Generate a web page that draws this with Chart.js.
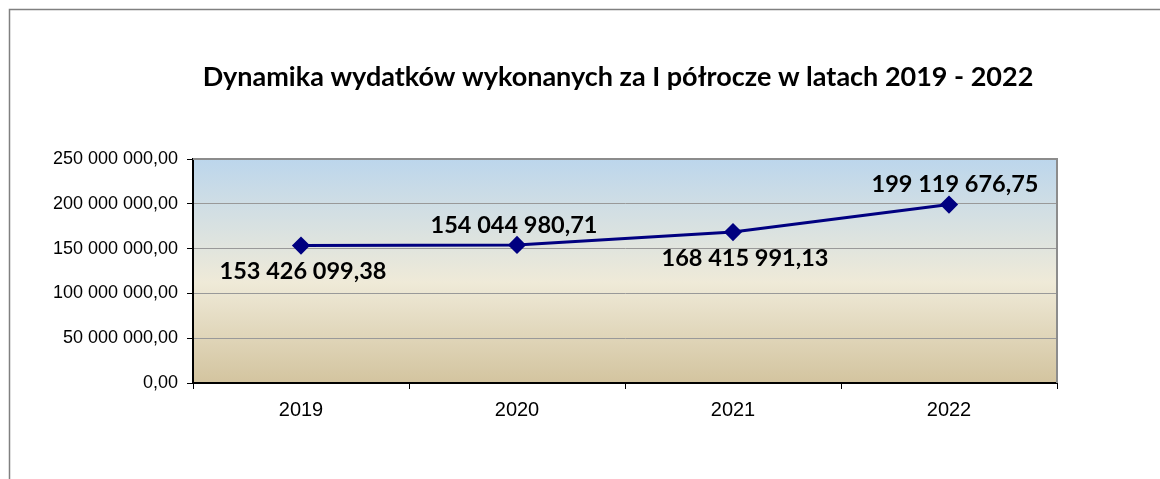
<!DOCTYPE html>
<html>
<head>
<meta charset="utf-8">
<script src="https://cdn.jsdelivr.net/npm/chart.js@4.4.0/dist/chart.umd.min.js"></script>
<style>
  html, body { margin: 0; padding: 0; background: #fff; }
  #wrap { width: 1160px; height: 479px; }
</style>
</head>
<body>
<div id="wrap"><canvas id="chart"></canvas></div>
<script>
// --- chart data ---
const chartTitle = 'Dynamika wydatków wykonanych za I półrocze w latach 2019 - 2022';
const years = ['2019', '2020', '2021', '2022'];
const expenses = [153426099.38, 154044980.71, 168415991.13, 199119676.75];
const labelSide = ['below', 'above', 'below', 'above'];
const yTicks = [0, 50000000, 100000000, 150000000, 200000000, 250000000];

// polish number format: "153 426 099,38"
function fmtPL(v) {
  const parts = v.toFixed(2).split('.');
  const intPart = parts[0].replace(/\B(?=(\d{3})+(?!\d))/g, ' ');
  return intPart + ',' + parts[1];
}

// background: outer frame, title, gradient plot area
const backdrop = {
  id: 'backdrop',
  beforeDraw(chart) {
    const { ctx, chartArea: a } = chart;
    ctx.save();
    ctx.strokeStyle = '#808080';
    ctx.lineWidth = 1.5;
    ctx.strokeRect(9.5, 9.5, 1300, 700);

    ctx.font = 'bold 27px Lato';
    ctx.fillStyle = '#000';
    ctx.textAlign = 'center';
    ctx.textBaseline = 'middle';
    ctx.fillText(chartTitle, 618, 77);

    const g = ctx.createLinearGradient(0, a.top, 0, a.bottom);
    g.addColorStop(0, '#bcd6ec');
    g.addColorStop(0.55, '#efead8');
    g.addColorStop(1, '#d3c49f');
    ctx.fillStyle = g;
    ctx.fillRect(a.left, a.top, a.right - a.left, a.bottom - a.top);
    ctx.restore();
  },
  afterDraw(chart) {
    // gray frame on top and right of plot area
    const { ctx, chartArea: a } = chart;
    ctx.save();
    ctx.strokeStyle = '#8c8c8c';
    ctx.lineWidth = 2;
    ctx.beginPath();
    ctx.moveTo(a.left, a.top);
    ctx.lineTo(a.right, a.top);
    ctx.lineTo(a.right, a.bottom);
    ctx.stroke();
    ctx.restore();
  }
};

// value labels next to points
const valueLabels = {
  id: 'valueLabels',
  afterDatasetsDraw(chart) {
    const { ctx } = chart;
    const meta = chart.getDatasetMeta(0);
    ctx.save();
    ctx.font = 'bold 23.5px Lato';
    ctx.fillStyle = '#000';
    ctx.textAlign = 'center';
    ctx.textBaseline = 'middle';
    meta.data.forEach((pt, i) => {
      const dy = labelSide[i] === 'above' ? -20 : 26;
      ctx.fillText(fmtPL(expenses[i]), pt.x + (i === 2 ? 12 : i === 3 ? 6 : i === 1 ? -3 : 2), pt.y + dy);
    });
    ctx.restore();
  }
};

new Chart(document.getElementById('chart'), {
  type: 'line',
  data: {
    labels: years,
    datasets: [{
      data: expenses,
      borderColor: '#000080',
      backgroundColor: '#000080',
      borderWidth: 3,
      pointStyle: 'rectRot',
      pointRadius: 7,
      pointHoverRadius: 7,
      tension: 0
    }]
  },
  options: {
    responsive: true,
    maintainAspectRatio: false,
    animation: false,
    layout: { padding: { left: 0, right: 103, top: 159, bottom: 0 } },
    plugins: {
      legend: { display: false },
      tooltip: { enabled: false },
      title: { display: false }
    },
    scales: {
      x: {
        offset: true,
        grid: {
          offset: true,
          drawOnChartArea: false,
          drawTicks: true,
          tickLength: 6,
          tickColor: '#000'
        },
        border: { color: '#000', width: 2 },
        ticks: {
          color: '#000',
          padding: 9,
          font: { family: 'Liberation Sans', size: 20 }
        },
        afterFit(scale) { scale.height = 96; }
      },
      y: {
        min: 0,
        max: 250000000,
        afterBuildTicks(scale) { scale.ticks = yTicks.map(v => ({ value: v })); },
        grid: {
          color: '#999999',
          lineWidth: 1,
          tickLength: 6,
          tickColor: '#000'
        },
        border: { color: '#000', width: 2 },
        ticks: {
          color: '#000',
          padding: 9,
          font: { family: 'Liberation Sans', size: 18 },
          callback: (v) => fmtPL(v)
        },
        afterFit(scale) { scale.width = 193; }
      }
    }
  },
  plugins: [backdrop, valueLabels]
});
</script>
</body>
</html>
